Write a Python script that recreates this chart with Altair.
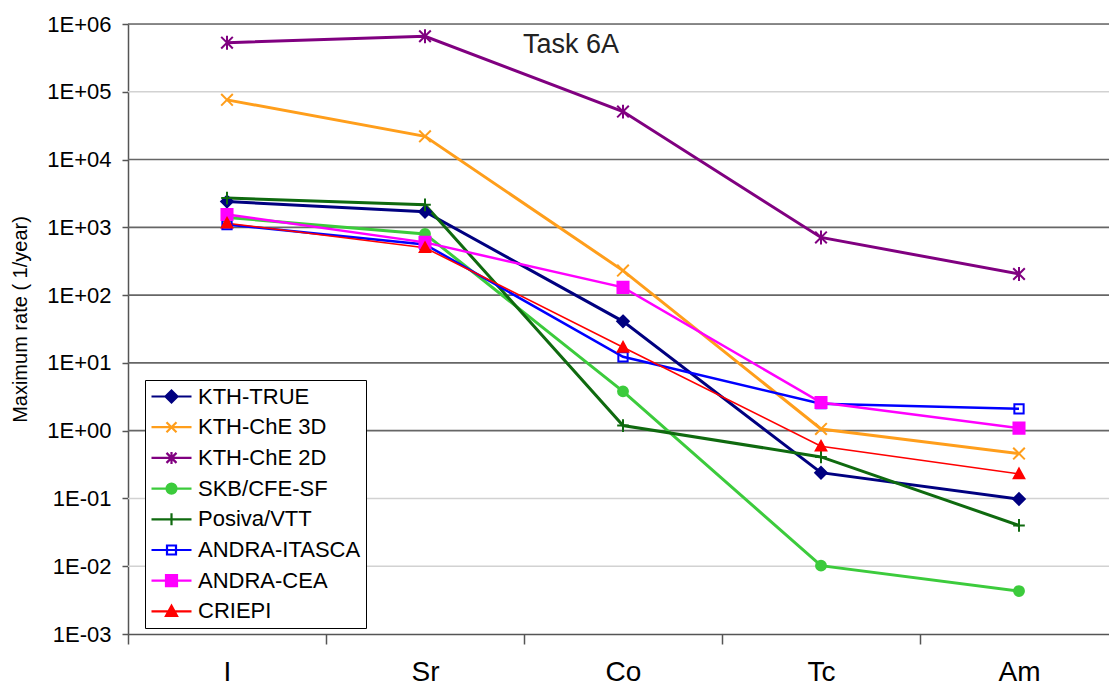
import altair as alt
import pandas as pd

# ---------------- data ----------------
elements = ["I", "Sr", "Co", "Tc", "Am"]
series_names = ["KTH-TRUE", "KTH-ChE 3D", "KTH-ChE 2D", "SKB/CFE-SF",
                "Posiva/VTT", "ANDRA-ITASCA", "ANDRA-CEA", "CRIEPI"]

kth_true = [2400, 1700, 41, 0.24, 0.098]
kth_che_3d = [76000, 22000, 230, 1.06, 0.46]
kth_che_2d = [530000, 660000, 51000, 710, 205]
skb_cfe_sf = [1400, 800, 3.8, 0.0102, 0.0043]
posiva_vtt = [2700, 2150, 1.19, 0.41, 0.040]
andra_itasca = [1100, 560, 12.3, 2.5, 2.1]
andra_cea = [1550, 600, 130, 2.6, 1.09]
criepi = [1150, 500, 17, 0.59, 0.23]
all_values = [kth_true, kth_che_3d, kth_che_2d, skb_cfe_sf,
              posiva_vtt, andra_itasca, andra_cea, criepi]

y_ticks = [1e-3, 1e-2, 1e-1, 1e0, 1e1, 1e2, 1e3, 1e4, 1e5, 1e6]
dark_grid = [1e0, 1e1, 1e2, 1e3, 1e4, 1e6]
light_grid = [1e-2, 1e-1, 1e5]

# ---------------- styles ----------------
colors = ["#000080", "#FF9E1B", "#800080", "#3CCB3C",
          "#0F6A0F", "#0000FF", "#FF00FF", "#FF0000"]
fills = ["#000080", "transparent", "transparent", "#3CCB3C",
         "transparent", "transparent", "#FF00FF", "#FF0000"]
line_widths = [3, 3, 3, 3, 3, 2.5, 2.5, 1.6]

marker_paths = [
    "M0,-1L1,0L0,1L-1,0Z",                                  # diamond
    "M-1,-1L1,1M-1,1L1,-1",                                 # x
    "M-1,-1L1,1M-1,1L1,-1M0,-1.2L0,1.2",                    # asterisk
    "M-0.85,0A0.85,0.85,0,1,0,0.85,0A0.85,0.85,0,1,0,-0.85,0Z",  # circle
    "M-1,0L1,0M0,-1.1L0,1.1",                               # plus
    "M-0.8,-0.8L0.8,-0.8L0.8,0.8L-0.8,0.8Z",                # open square
    "M-0.95,-0.95L0.95,-0.95L0.95,0.95L-0.95,0.95Z",        # filled square
    "M0,-0.9L0.9,0.75L-0.9,0.75Z",                          # triangle
]
legend_paths = [
    "M-2,0L2,0M0,-0.6L0.6,0L0,0.6L-0.6,0Z",
    "M-2,0L2,0M-0.5,-0.5L0.5,0.5M-0.5,0.5L0.5,-0.5",
    "M-2,0L2,0M-0.5,-0.5L0.5,0.5M-0.5,0.5L0.5,-0.5M0,-0.6L0,0.6",
    "M-2,0L2,0M-0.5,0A0.5,0.5,0,1,0,0.5,0A0.5,0.5,0,1,0,-0.5,0Z",
    "M-2,0L2,0M0,-0.6L0,0.6",
    "M-2,0L2,0M-0.45,-0.45L0.45,-0.45L0.45,0.45L-0.45,0.45Z",
    "M-2,0L2,0M-0.55,-0.55L0.55,-0.55L0.55,0.55L-0.55,0.55Z",
    "M-2,0L2,0M0,-0.55L0.55,0.45L-0.55,0.45Z",
]

rows = []
for name, vals in zip(series_names, all_values):
    for el, v in zip(elements, vals):
        rows.append({"series": name, "element": el, "value": v})
df = pd.DataFrame(rows)
dark_df = pd.DataFrame({"value": dark_grid})
light_df = pd.DataFrame({"value": light_grid})

FONT = "Liberation Sans"

x_enc = alt.X(
    "element:N",
    sort=elements,
    bandPosition=0.5,
    scale=alt.Scale(type="band", domain=elements, range=[0, 990],
                    paddingInner=0, paddingOuter=0),
    axis=alt.Axis(title=None, labelAngle=0, labelFontSize=28, labelFont=FONT,
                  labelColor="black", tickBand="extent", tickSize=10,
                  tickColor="#555555", tickWidth=1.5, domainColor="#555555",
                  domainWidth=1.5, labelPadding=14, grid=False),
)

y_scale = alt.Scale(type="log", domain=[1e-3, 1e6])
y_enc = alt.Y(
    "value:Q",
    scale=y_scale,
    axis=alt.Axis(
        values=y_ticks,
        labelExpr="'1E' + (round(log(datum.value)/LN10) < 0 ? '-' : '+') + "
                  "(abs(round(log(datum.value)/LN10)) < 10 ? '0' : '') + "
                  "abs(round(log(datum.value)/LN10))",
        labelFontSize=22, labelFont=FONT, labelColor="black",
        tickSize=6, tickColor="#555555", tickWidth=1.5,
        domainColor="#555555", domainWidth=1.5, labelPadding=11,
        grid=False,
        title="Maximum rate ( 1/year)", titleFont=FONT, titleFontSize=20,
        titleFontWeight="normal", titleColor="black",
        titleX=-108, titleY=295, titleAlign="center", titleBaseline="middle",
        titleAngle=270,
    ),
)

stroke_scale = alt.Scale(domain=series_names, range=colors)
fill_scale = alt.Scale(domain=series_names, range=fills)

leg = alt.Legend(
    title=None, orient="none", legendX=17, legendY=356, direction="vertical",
    symbolSize=400, symbolStrokeWidth=2.2, labelFontSize=22, labelFont=FONT,
    labelColor="black", labelLimit=300, padding=5, rowPadding=7.7,
    symbolOffset=10, labelOffset=15, strokeColor="black", fillColor="white",
)

dark_layer = alt.Chart(dark_df).mark_rule(strokeWidth=1.6, color="#666666").encode(y=y_enc)
light_layer = alt.Chart(light_df).mark_rule(strokeWidth=1.6, color="#d2d2d2").encode(y=y_enc)

line_layers = []
point_layers = []
for name, lw, mp in zip(series_names, line_widths, marker_paths):
    base = alt.Chart(df).transform_filter(alt.datum.series == name)
    line_layers.append(
        base.mark_line(strokeWidth=lw).encode(
            x=x_enc, y=y_enc,
            stroke=alt.Stroke("series:N", scale=stroke_scale, legend=leg),
        )
    )
    point_layers.append(
        base.mark_point(shape=mp, size=135, strokeWidth=2, opacity=1).encode(
            x=x_enc, y=y_enc,
            stroke=alt.Stroke("series:N", scale=stroke_scale, legend=leg),
            fill=alt.Fill("series:N", scale=fill_scale, legend=leg),
        )
    )

legend_layer = alt.Chart(df).transform_filter("datum.value < 0").mark_point(
    opacity=1, strokeWidth=2.2
).encode(
    x=x_enc, y=y_enc,
    shape=alt.Shape("series:N",
                    scale=alt.Scale(domain=series_names, range=legend_paths),
                    legend=leg),
    stroke=alt.Stroke("series:N", scale=stroke_scale, legend=leg),
    fill=alt.Fill("series:N", scale=fill_scale, legend=leg),
)

title_df = pd.DataFrame({"t": ["Task 6A"]})
title_layer = alt.Chart(title_df).mark_text(
    align="left", baseline="alphabetic", fontSize=27, font=FONT, color="#222222"
).encode(text="t:N", x=alt.value(395), y=alt.value(29))

chart = alt.layer(
    light_layer, dark_layer, *line_layers, *point_layers, legend_layer, title_layer
).properties(
    width=981, height=610,
    autosize=alt.AutoSizeParams(type="none"),
    padding={"left": 128, "top": 24, "right": 0, "bottom": 56},
).configure_view(stroke=None).configure(background="white")

chart.save("out.html", embed_options={"renderer": "svg", "actions": False})
